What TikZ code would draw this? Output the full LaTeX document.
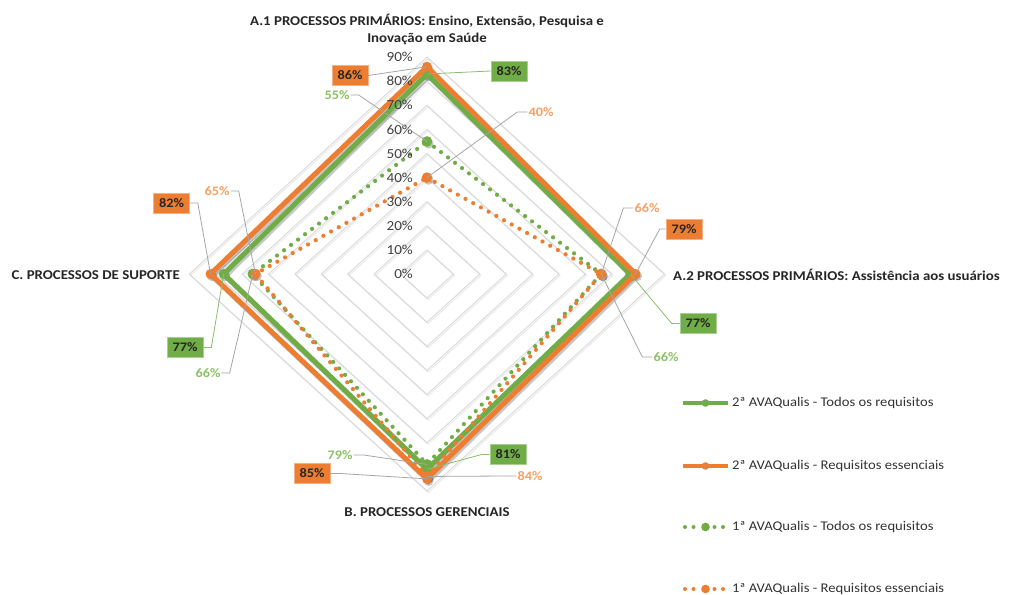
\documentclass[tikz,border=0pt]{standalone}
\usepackage{fontspec}
\setmainfont{Carlito}[FakeStretch=1.1]
\usetikzlibrary{calc}
\definecolor{xgreen}{HTML}{70AD47}
\definecolor{xorange}{HTML}{ED7D31}
\definecolor{lgreen}{HTML}{8CC265}
\definecolor{lorange}{HTML}{F4A266}
\definecolor{gridc}{HTML}{D9D9D9}
\definecolor{leadc}{HTML}{A6A6A6}
\definecolor{txtc}{HTML}{262626}
\definecolor{tickc}{HTML}{404040}
\definecolor{legc}{HTML}{333333}
\begin{document}
\begin{tikzpicture}[x=1pt,y=-1pt,
  gridline/.style={draw=gridc,line width=0.9pt},
  ticklab/.style={font=\fontsize{13.8}{14}\selectfont,text=tickc,anchor=east,inner sep=0pt},
  axislab/.style={font=\fontsize{13.5}{17}\selectfont\bfseries,text=txtc,inner sep=0pt},
  legtext/.style={font=\fontsize{13.3}{15}\selectfont,text=legc,anchor=west,inner sep=0pt},
  solidser/.style={line width=5pt,line join=miter},
  dotser/.style={line width=4.2pt,line cap=round,dash pattern=on 0pt off 8.8pt},
  shadowline/.style={draw=black,opacity=0.22,line width=5pt},
  boxlab/.style={font=\fontsize{13}{14}\selectfont\bfseries,text=txtc,minimum width=36,minimum height=20,inner sep=0pt},
  obox/.style={boxlab,fill=xorange,draw=xorange!60!white,line width=0.6pt},
  gbox/.style={boxlab,fill=xgreen,draw=xgreen!60!white,line width=0.6pt},
  otext/.style={font=\fontsize{13}{14}\selectfont\bfseries,text=lorange,inner sep=1pt},
  gtext/.style={font=\fontsize{13}{14}\selectfont\bfseries,text=lgreen,inner sep=1pt},
  leader/.style={draw=leadc,line width=0.8pt},
  gleader/.style={draw=xgreen!80!white,line width=0.8pt}
]
\useasboundingbox (0,0) rectangle (1014,594);
\fill[white] (0,0) rectangle (1014,594);

% centre and grid
\coordinate (O) at (427,274);
\foreach \k in {1,...,9}{
  \draw[gridc!60!white,line width=0.9pt,transform canvas={shift={(1,1.5)}}] (427,{274-24.1*\k}) -- ({427+26.4*\k},274) -- (427,{274+24.1*\k}) -- ({427-26.4*\k},274) -- cycle;
  \draw[gridline] (427,{274-24.1*\k}) -- ({427+26.4*\k},274) -- (427,{274+24.1*\k}) -- ({427-26.4*\k},274) -- cycle;
}

% data points: a = A.1 (up), b = A.2 (right), c = B (down), d = C (left)
\coordinate (g2a) at (427,{274-241*0.83});
\coordinate (g2b) at ({427+264*0.77},274);
\coordinate (g2c) at (427,{274+241*0.81});
\coordinate (g2d) at ({427-264*0.77},274);
\coordinate (o2a) at (427,{274-241*0.86});
\coordinate (o2b) at ({427+264*0.79},274);
\coordinate (o2c) at (427,{274+241*0.85});
\coordinate (o2d) at ({427-264*0.82},274);
\coordinate (g1a) at (427,{274-241*0.55});
\coordinate (g1b) at ({427+264*0.66},274);
\coordinate (g1c) at (427,{274+241*0.79});
\coordinate (g1d) at ({427-264*0.66},274);
\coordinate (o1a) at (427,{274-241*0.40});
\coordinate (o1b) at ({427+264*0.66},274);
\coordinate (o1c) at (427,{274+241*0.84});
\coordinate (o1d) at ({427-264*0.65},274);

% shadows of series
\begin{scope}[transform canvas={shift={(1.5,2.2)}}]
  \draw[shadowline] (g2a) -- (g2b) -- (g2c) -- (g2d) -- cycle;
  \draw[shadowline] (o2a) -- (o2b) -- (o2c) -- (o2d) -- cycle;
  \foreach \p in {g2a,g2b,g2c,g2d,o2a,o2b,o2c,o2d,g1a,g1b,g1c,g1d,o1a,o1b,o1c,o1d}{\fill[black,opacity=0.22] (\p) circle (5);}
\end{scope}

% series 2a AVAQualis - Todos (green solid)
\draw[solidser,xgreen] (g2a) -- (g2b) -- (g2c) -- (g2d) -- cycle;
\foreach \p in {g2a,g2b,g2c,g2d}{\fill[xgreen] (\p) circle (5);}
% series 2a AVAQualis - Essenciais (orange solid)
\draw[solidser,xorange] (o2a) -- (o2b) -- (o2c) -- (o2d) -- cycle;
\foreach \p in {o2a,o2b,o2c,o2d}{\fill[xorange] (\p) circle (5);}
% series 1a AVAQualis - Todos (green dotted)
\draw[dotser,xgreen] (g1a) -- (g1b) -- (g1c) -- (g1d) -- cycle;
\foreach \p in {g1a,g1b,g1c,g1d}{\fill[xgreen] (\p) circle (5.3);}
% series 1a AVAQualis - Essenciais (orange dotted)
\draw[dotser,xorange] (o1a) -- (o1b) -- (o1c) -- (o1d) -- cycle;
\foreach \p in {o1a,o1b,o1c,o1d}{\fill[xorange] (\p) circle (5.3);}

% tick labels (drawn over the series, as in the reference)
\foreach \k in {0,...,9}{
  \pgfmathtruncatemacro{\pct}{10*\k}
  \node[ticklab] (tick\k) at (413,{274-24.1*\k}) {\pct\%};
}

% axis labels
\node[axislab,align=center] (axA1) at (427,29) {A.1 PROCESSOS PRIMÁRIOS: Ensino, Extensão, Pesquisa e\\Inovação em Saúde};
\node[axislab,anchor=west] (axA2) at (673,275) {A.2 PROCESSOS PRIMÁRIOS: Assistência aos usuários};
\node[axislab] (axB) at (427,512) {B. PROCESSOS GERENCIAIS};
\node[axislab,anchor=east] (axC) at (180,275) {C. PROCESSOS DE SUPORTE};

% data labels A.1
\node[obox] (l86) at (350,75.5) {86\%};
\node[gbox] (l83) at (509,71) {83\%};
\node[gtext] (l55) at (337,95) {55\%};
\node[otext] (l40) at (541,112) {40\%};
\draw[leader] (l86.east) -- (o2a);
\draw[gleader] (l83.west) -- (g2a);
\draw[leader] (l55.east) -- ++(8,0) -- (g1a);
\draw[leader] (l40.west) -- ++(-10,0) -- (o1a);

% data labels A.2
\node[otext] (l66o) at (647,208) {66\%};
\node[obox] (l79) at (684,229) {79\%};
\node[gbox] (l77) at (698,323.5) {77\%};
\node[gtext] (l66g) at (666,357) {66\%};
\draw[leader] (l66o.west) -- ++(-10,0) -- (o1b);
\draw[leader] (l79.west) -- ++(-6,0) -- (o2b);
\draw[gleader] (l77.west) -- ++(-8,0) -- (g2b);
\draw[leader] (l66g.west) -- ++(-10,0) -- (g1b);

% data labels B
\node[gtext] (l79g) at (340,455) {79\%};
\node[obox] (l85) at (312,473.5) {85\%};
\node[gbox] (l81) at (508,454.5) {81\%};
\node[otext] (l84) at (530,476) {84\%};
\draw[leader] (l79g.east) -- ++(10,0) -- (g1c);
\draw[leader] (l85.east) -- ++(10,0) -- (o2c);
\draw[gleader] (l81.west) -- ++(-8,0) -- (g2c);
\draw[leader] (l84.west) -- ++(-10,0) -- (o1c);

% data labels C
\node[obox] (l82) at (171.5,203) {82\%};
\node[otext] (l65) at (217,191) {65\%};
\node[gbox] (l77c) at (185,347.5) {77\%};
\node[gtext] (l66c) at (208,373) {66\%};
\draw[leader] (l82.east) -- ++(8,0) -- (o2d);
\draw[leader] (l65.east) -- ++(8,0) -- (o1d);
\draw[gleader] (l77c.east) -- ++(8,0) -- (g2d);
\draw[leader] (l66c.east) -- ++(8,0) -- (g1d);

% legend
\coordinate (k1a) at (683,403); \coordinate (k1b) at (728,403);
\coordinate (k2a) at (683,466); \coordinate (k2b) at (728,466);
\coordinate (k3a) at (683,527); \coordinate (k3b) at (728,527);
\coordinate (k4a) at (683,589); \coordinate (k4b) at (728,589);
\draw[xgreen,line width=4pt] (k1a) -- (k1b);
\fill[xgreen] ($(k1a)!0.5!(k1b)$) circle (3.8);
\draw[xorange,line width=4pt] (k2a) -- (k2b);
\fill[xorange] ($(k2a)!0.5!(k2b)$) circle (3.8);
\foreach \x in {685,693.5,714.5,723}{\fill[xgreen] (\x,527) circle (2); \fill[xorange] (\x,589) circle (2);}
\fill[xgreen] ($(k3a)!0.5!(k3b)$) circle (4.3);
\fill[xorange] ($(k4a)!0.5!(k4b)$) circle (4.3);
\node[legtext] (e1) at (732,403) {2ª AVAQualis - Todos os requisitos};
\node[legtext] (e2) at (732,466) {2ª AVAQualis - Requisitos essenciais};
\node[legtext] (e3) at (732,527) {1ª AVAQualis - Todos os requisitos};
\node[legtext] (e4) at (732,589) {1ª AVAQualis - Requisitos essenciais};
\end{tikzpicture}
\end{document}
